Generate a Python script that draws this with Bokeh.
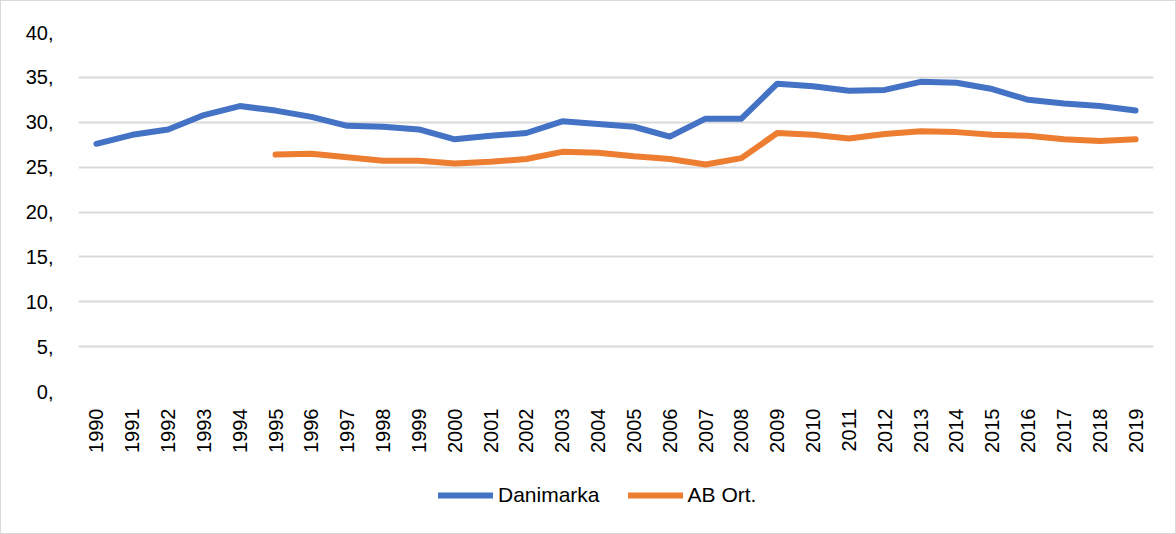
from bokeh.plotting import figure
from bokeh.models import FactorRange, Range1d, FixedTicker, Legend, LegendItem
from bokeh.layouts import column
from bokeh.embed import file_html
from bokeh.resources import INLINE
import math

years = [str(y) for y in range(1990, 2020)]
danimarka = [27.6, 28.6, 29.2, 30.8, 31.8, 31.3, 30.6, 29.6, 29.5, 29.2,
             28.1, 28.5, 28.8, 30.1, 29.8, 29.5, 28.4, 30.4, 30.4, 34.3,
             34.0, 33.5, 33.6, 34.5, 34.4, 33.7, 32.5, 32.1, 31.8, 31.3]
ab_years = [str(y) for y in range(1995, 2020)]
ab_ort = [26.4, 26.5, 26.1, 25.7, 25.7, 25.4, 25.6, 25.9, 26.7, 26.6,
          26.2, 25.9, 25.3, 26.0, 28.8, 28.6, 28.2, 28.7, 29.0, 28.9,
          28.6, 28.5, 28.1, 27.9, 28.1]
y_ticks = [0, 5, 10, 15, 20, 25, 30, 35, 40]
y_labels = ["0,", "5,", "10,", "15,", "20,", "25,", "30,", "35,", "40,"]
series_names = ["Danimarka", "AB Ort."]
series_colors = ["#4472C4", "#ED7D31"]

FONT = "Liberation Sans"
W = 1174

p = figure(x_range=FactorRange(*years), y_range=Range1d(0, 40),
           width=W, height=465, output_backend="svg", toolbar_location=None,
           min_border_left=77, min_border_right=22, min_border_top=31, min_border_bottom=75)
p.outline_line_color = None
p.background_fill_color = "white"
p.border_fill_color = "white"

p.line(years, danimarka, line_color=series_colors[0], line_width=6, line_cap="round", line_join="round")
p.line(ab_years, ab_ort, line_color=series_colors[1], line_width=6, line_cap="round", line_join="round")

p.yaxis.ticker = FixedTicker(ticks=y_ticks)
p.yaxis.major_label_overrides = {t: l for t, l in zip(y_ticks, y_labels)}
p.yaxis.axis_line_color = None
p.yaxis.major_tick_line_color = None
p.yaxis.minor_tick_line_color = None
p.yaxis.major_label_standoff = 19
p.yaxis.major_label_text_font = FONT
p.yaxis.major_label_text_font_size = "20px"
p.yaxis.major_label_text_color = "#000000"

p.xaxis.axis_line_color = None
p.xaxis.major_tick_line_color = None
p.xaxis.major_label_orientation = math.pi / 2
p.xaxis.major_label_standoff = 11
p.xaxis.major_label_text_font = FONT
p.xaxis.major_label_text_font_size = "20px"
p.xaxis.major_label_text_color = "#000000"

p.xgrid.grid_line_color = None
p.ygrid.grid_line_color = "#d9d9d9"
p.ygrid.grid_line_width = 2

# legend strip (its sample lines sit outside the visible range)
p2 = figure(x_range=Range1d(0, 1), y_range=Range1d(0, 1), width=W, height=67,
            output_backend="svg", toolbar_location=None,
            min_border_left=0, min_border_right=0, min_border_top=0, min_border_bottom=0)
p2.axis.visible = False
p2.grid.visible = False
p2.outline_line_color = None
p2.border_fill_color = "white"
items = []
for name, col in zip(series_names, series_colors):
    r = p2.line([-5, -4], [-5, -4], line_color=col, line_width=6, line_cap="round")
    items.append(LegendItem(label=name, renderers=[r]))

legend = Legend(items=items, orientation="horizontal", location=(360, 26))
legend.glyph_width = 55
legend.label_standoff = 5
legend.spacing = 28
legend.border_line_color = None
legend.background_fill_alpha = 0
legend.label_text_font = FONT
legend.label_text_font_size = "21px"
legend.label_text_color = "#000000"
legend.margin = 0
legend.padding = 0
p2.add_layout(legend)

layout = column(p, p2, spacing=0)
layout.styles = {"border": "1px solid #d9d9d9"}

open("out.html", "w").write(file_html(layout, INLINE))
